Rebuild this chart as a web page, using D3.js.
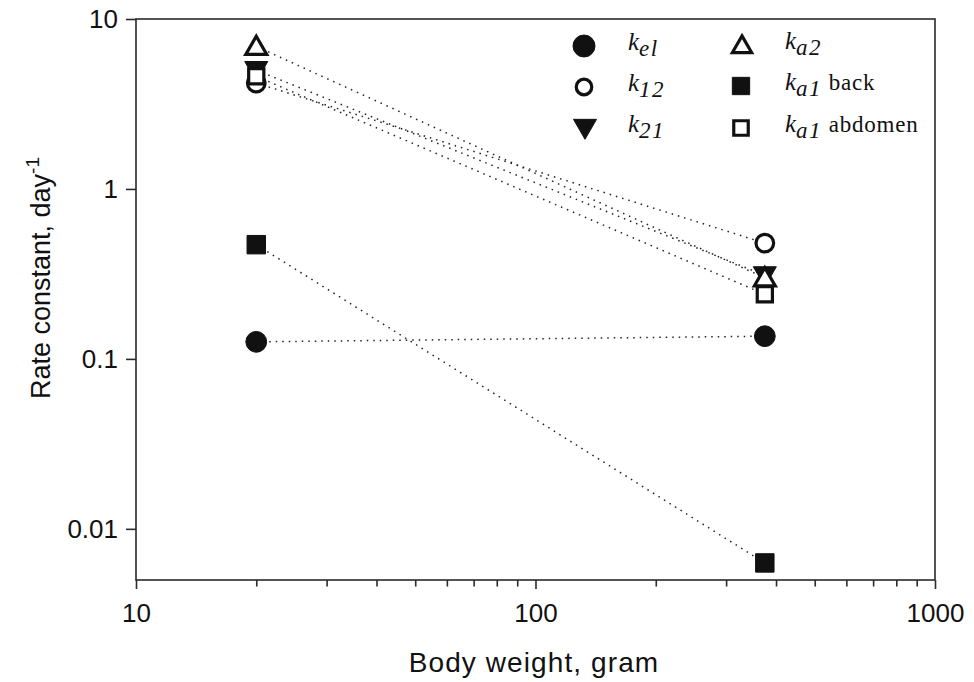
<!DOCTYPE html>
<html><head><meta charset="utf-8">
<script src="https://cdn.jsdelivr.net/npm/d3@7"></script>
<style>body{margin:0;background:#fff}</style>
</head><body>
<svg id="c" width="974" height="682"></svg>
<script>
const weights = [20, 375];
const seriesNames = ["kel", "k12", "k21", "ka2", "ka1back", "ka1abdomen"];
const kel = [0.126, 0.136];
const k12 = [4.2, 0.48];
const k21 = [5.0, 0.31];
const ka2 = [6.9, 0.30];
const ka1back = [0.47, 0.0063];
const ka1abdomen = [4.6, 0.24];
const xTicks = [10, 100, 1000];
const yTicks = [0.01, 0.1, 1, 10];

const series = [
  {name:"ka1back", vals:ka1back, sym:d3.symbolSquare, fill:true, sub:"a1", extra:" back"},
  {name:"kel", vals:kel, sym:d3.symbolCircle, fill:true, sub:"el", extra:""},
  {name:"k12", vals:k12, sym:d3.symbolCircle, fill:false, sub:"12", extra:""},
  {name:"k21", vals:k21, sym:"down", fill:true, sub:"21", extra:""},
  {name:"ka1abdomen", vals:ka1abdomen, sym:d3.symbolSquare, fill:false, sub:"a1", extra:" abdomen"},
  {name:"ka2", vals:ka2, sym:d3.symbolTriangle, fill:false, sub:"a2", extra:""}
];

const svg = d3.select("#c");
const L=136, R=935, T=19, B=580;
const x = d3.scaleLog().domain([10,1000]).range([L,R]);
const y = d3.scaleLog().domain([0.005,10]).range([B,T]);
const SANS = "Liberation Sans, Arial, sans-serif";
const SERIF = "Liberation Serif, Times New Roman, serif";

// frame
svg.append("rect").attr("x",L).attr("y",T).attr("width",R-L).attr("height",B-T)
  .attr("fill","none").attr("stroke","#2a2a2a").attr("stroke-width",1.6);

// x axis
const xMinor = [];
for (let d=10; d<1000; d*=10) for (let m=2; m<10; m++) xMinor.push(d*m);
const xa = svg.append("g").attr("transform",`translate(0,${B})`);
xa.call(d3.axisBottom(x).tickValues(xMinor).tickSize(6.5).tickFormat(""));
xa.select(".domain").remove();
xa.selectAll("line").attr("stroke","#2a2a2a").attr("stroke-width",1.6);
const xa2 = svg.append("g").attr("transform",`translate(0,${B})`);
xa2.call(d3.axisBottom(x).tickValues(xTicks).tickSize(9).tickFormat(d3.format("d")));
xa2.select(".domain").remove();
xa2.selectAll("line").attr("stroke","#2a2a2a").attr("stroke-width",1.6);
xa2.selectAll("text").attr("font-family",SANS).attr("font-size",26).attr("fill","#111")
  .attr("y",42).attr("dy",0);

// y axis
const ya = svg.append("g").attr("transform",`translate(${L},0)`);
ya.call(d3.axisLeft(y).tickValues(yTicks).tickSize(10).tickPadding(8).tickFormat(d=>d>=1?d3.format("d")(d):String(d)));
ya.select(".domain").remove();
ya.selectAll("line").attr("stroke","#2a2a2a").attr("stroke-width",1.6);
ya.selectAll("text").attr("font-family",SANS).attr("font-size",26).attr("fill","#111");

// axis titles
svg.append("text").attr("x",534).attr("y",672).attr("text-anchor","middle")
  .attr("font-family",SANS).attr("font-size",28).attr("letter-spacing",1.1).attr("fill","#111")
  .text("Body weight, gram");
const yt = svg.append("text").attr("transform","translate(50,278) rotate(-90)").attr("text-anchor","middle")
  .attr("font-family",SANS).attr("font-size",27).attr("fill","#111");
yt.append("tspan").text("Rate constant, day");
yt.append("tspan").attr("dy",-11).attr("font-size",19).text("-1");

// lines
const line = d3.line().x((d,i)=>x(weights[i])).y(d=>y(d));
series.forEach(s=>{
  svg.append("path").attr("d",line(s.vals)).attr("fill","none")
    .attr("stroke","#222").attr("stroke-width",1.5).attr("stroke-dasharray","1.5,5");
});

function drawMarker(g, s, cx, cy, sizes){
  const sym = s.sym==="down" ? d3.symbolTriangle : s.sym;
  const isTri = s.sym===d3.symbolTriangle || s.sym==="down";
  let size;
  if (s.sym===d3.symbolCircle) size = s.fill ? sizes.cf : sizes.co;
  else if (s.sym===d3.symbolSquare) size = s.fill ? sizes.sf : sizes.so;
  else size = s.fill ? sizes.tf : sizes.to;
  g.append("path").attr("d",d3.symbol(sym,size)())
    .attr("transform",`translate(${cx},${cy})` + (s.sym==="down"?" rotate(180)":"") + (isTri?" translate(0,2)":""))
    .attr("fill", s.fill?"#111":"#fff").attr("stroke","#111").attr("stroke-width", s.fill?1:3.2)
    .attr("stroke-linejoin","miter");
}
const plotSizes = {cf:340, co:245, sf:340, so:230, tf:230, to:190};
series.forEach(s=>{
  s.vals.forEach((v,i)=>drawMarker(svg, s, x(weights[i]), y(v), plotSizes));
});

// legend
const legendSizes = {cf:380, co:190, sf:300, so:210, tf:230, to:160};
const legendOrder = [
  ["kel",584,46],["k12",584,87],["k21",585,128],
  ["ka2",742,45],["ka1back",741,86],["ka1abdomen",741,128]
];
legendOrder.forEach(([n,lx,ly])=>{
  const s = series.find(d=>d.name===n);
  drawMarker(svg, s, lx, ly, legendSizes);
  const tx = lx < 700 ? 628 : 785;
  const t = svg.append("text").attr("x",tx).attr("y",ly+4)
    .attr("font-family",SERIF).attr("font-size",25).attr("fill","#111");
  t.append("tspan").attr("font-style","italic").text("k");
  t.append("tspan").attr("font-style","italic").attr("dy",6).attr("font-size",23).attr("letter-spacing",1.5).text(s.sub);
  if (s.extra) t.append("tspan").attr("dy",-6).attr("font-size",23).attr("letter-spacing",0.8).text(s.extra);
});
</script>
</body></html>
